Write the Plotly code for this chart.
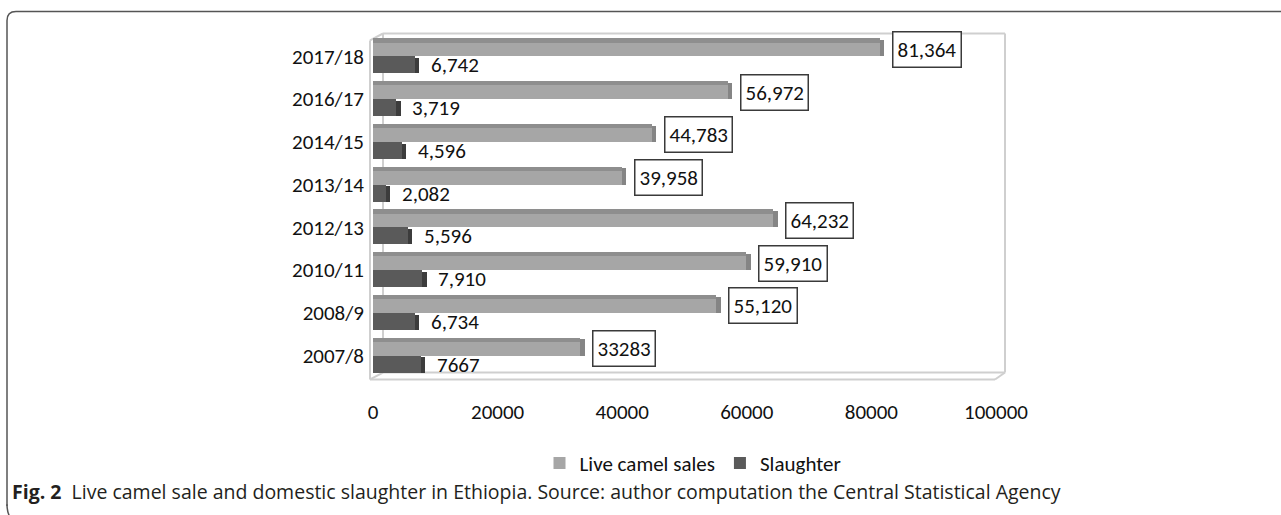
import plotly.graph_objects as go

# ---------------- data (top-to-bottom as shown) ----------------
years = ["2017/18", "2016/17", "2014/15", "2013/14", "2012/13", "2010/11", "2008/9", "2007/8"]
live_sales = [81364, 56972, 44783, 39958, 64232, 59910, 55120, 33283]
slaughter = [6742, 3719, 4596, 2082, 5596, 7910, 6734, 7667]
live_labels = ["81,364", "56,972", "44,783", "39,958", "64,232", "59,910", "55,120", "33283"]
slaughter_labels = ["6,742", "3,719", "4,596", "2,082", "5,596", "7,910", "6,734", "7667"]
x_ticks = [0, 20000, 40000, 60000, 80000, 100000]

# plot bottom-to-top
cats = years[::-1]
live = live_sales[::-1]
slau = slaughter[::-1]
live_lab = live_labels[::-1]
slau_lab = slaughter_labels[::-1]

# ---------------- layout geometry ----------------
W, H = 1281, 515
L, R, T, B = 373, 285, 34.5, 137.5
PW, PH = W - L - R, H - T - B
DEPTH = 700  # 3-D side face depth (data units, style only)

def px(x):
    return (x - L) / PW

def py(y):
    return (H - B - y) / PH

FONT = "Carlito, Lato, sans-serif"
FS = 21
LIVE_C, LIVE_TOP, LIVE_SIDE = "#a6a6a6", "#8e8e8e", "#858585"
SL_C, SL_SIDE = "#5a5a5a", "#3c3c3c"

fig = go.Figure()
# Live camel sales
fig.add_trace(go.Bar(y=cats, x=live, orientation="h", name="Live camel sales",
                     marker=dict(color=LIVE_C, line=dict(width=0)),
                     offset=0.0, width=0.42, hoverinfo="x"))
fig.add_trace(go.Bar(y=cats, x=live, orientation="h", showlegend=False,
                     marker=dict(color=LIVE_TOP, line=dict(width=0)),
                     offset=0.32, width=0.10, hoverinfo="skip"))
fig.add_trace(go.Bar(y=cats, x=[DEPTH] * len(cats), base=live, orientation="h", showlegend=False,
                     marker=dict(color=LIVE_SIDE, line=dict(width=0)),
                     offset=0.0, width=0.38, hoverinfo="skip"))
# Slaughter
fig.add_trace(go.Bar(y=cats, x=slau, orientation="h", name="Slaughter",
                     marker=dict(color=SL_C, line=dict(width=0)),
                     offset=-0.40, width=0.40, hoverinfo="x"))
fig.add_trace(go.Bar(y=cats, x=[DEPTH] * len(cats), base=slau, orientation="h", showlegend=False,
                     marker=dict(color=SL_SIDE, line=dict(width=0)),
                     offset=-0.40, width=0.36, hoverinfo="skip"))

# data labels
for c, v, t in zip(cats, live, live_lab):
    fig.add_annotation(x=v, y=c, text=t, showarrow=False, xanchor="left", yanchor="middle",
                       xshift=12, yshift=7, font=dict(family=FONT, size=FS, color="#111"),
                       bgcolor="white", bordercolor="#3a3a3a", borderwidth=1.5, borderpad=4)
for c, v, t in zip(cats, slau, slau_lab):
    fig.add_annotation(x=v, y=c, text=t, showarrow=False, xanchor="left", yanchor="middle",
                       xshift=14, yshift=-9, font=dict(family=FONT, size=FS, color="#111"))

# 3-D frame (walls / floor outline)
fc = "#cfcfcf"
frame = [
    (383, 33, 1005, 33), (1005, 33, 1005, 373), (383, 373, 1005, 373), (383, 33, 383, 373),
    (370, 40, 370, 380), (370, 380, 995, 380), (370, 40, 383, 33), (370, 380, 383, 373),
    (995, 380, 1005, 373),
]
shapes = []
for x0, y0, x1, y1 in frame:
    shapes.append(dict(type="line", xref="paper", yref="paper", x0=px(x0), y0=py(y0),
                       x1=px(x1), y1=py(y1), line=dict(color=fc, width=2), layer="below"))

# outer rounded border (top and left sides)
r = 9
path = (f"M {px(7)},{py(507)} L {px(7)},{py(11 + r)} Q {px(7)},{py(11)} {px(7 + r)},{py(11)} "
        f"L {px(1285)},{py(11)}")
shapes.append(dict(type="path", xref="paper", yref="paper", path=path,
                   line=dict(color="#555555", width=1.5)))
path2 = f"M {px(7)},{py(505)} Q {px(7)},{py(513)} {px(10)},{py(518)}"
shapes.append(dict(type="path", xref="paper", yref="paper", path=path2,
                   line=dict(color="#555555", width=1.5)))

# caption
fig.add_annotation(xref="paper", yref="paper", x=px(10), y=py(492), xanchor="left", yanchor="middle",
                   showarrow=False, align="left",
                   text="<b>Fig. 2</b>\u00a0\u00a0Live camel sale and domestic slaughter in Ethiopia. "
                        "Source: author computation the Central Statistical Agency",
                   font=dict(family="Open Sans, sans-serif", size=19.5, color="#231f20"))

fig.update_layout(
    width=W, height=H, autosize=False,
    margin=dict(l=L, r=R, t=T, b=B, pad=0),
    paper_bgcolor="white", plot_bgcolor="white",
    barmode="overlay", bargap=0, showlegend=True,
    font=dict(family=FONT, size=FS, color="#111"),
    shapes=shapes,
    legend=dict(orientation="h", x=px(693), y=py(464), xanchor="center", yanchor="middle",
                font=dict(family=FONT, size=FS, color="#111"), itemclick=False,
                traceorder="normal", bgcolor="rgba(0,0,0,0)"),
    xaxis=dict(range=[0, 100000], tickvals=x_ticks, ticktext=[str(v) for v in x_ticks],
               showgrid=False, zeroline=False, showline=False, ticks="",
               ticklabelstandoff=20, tickfont=dict(family=FONT, size=FS, color="#111"),
               fixedrange=True),
    yaxis=dict(categoryorder="array", categoryarray=cats, range=[-0.5, len(cats) - 0.5],
               showgrid=False, zeroline=False, showline=False, ticks="",
               ticklabelstandoff=8, tickfont=dict(family=FONT, size=FS, color="#111"),
               fixedrange=True),
)

fig.write_html("out.html")
